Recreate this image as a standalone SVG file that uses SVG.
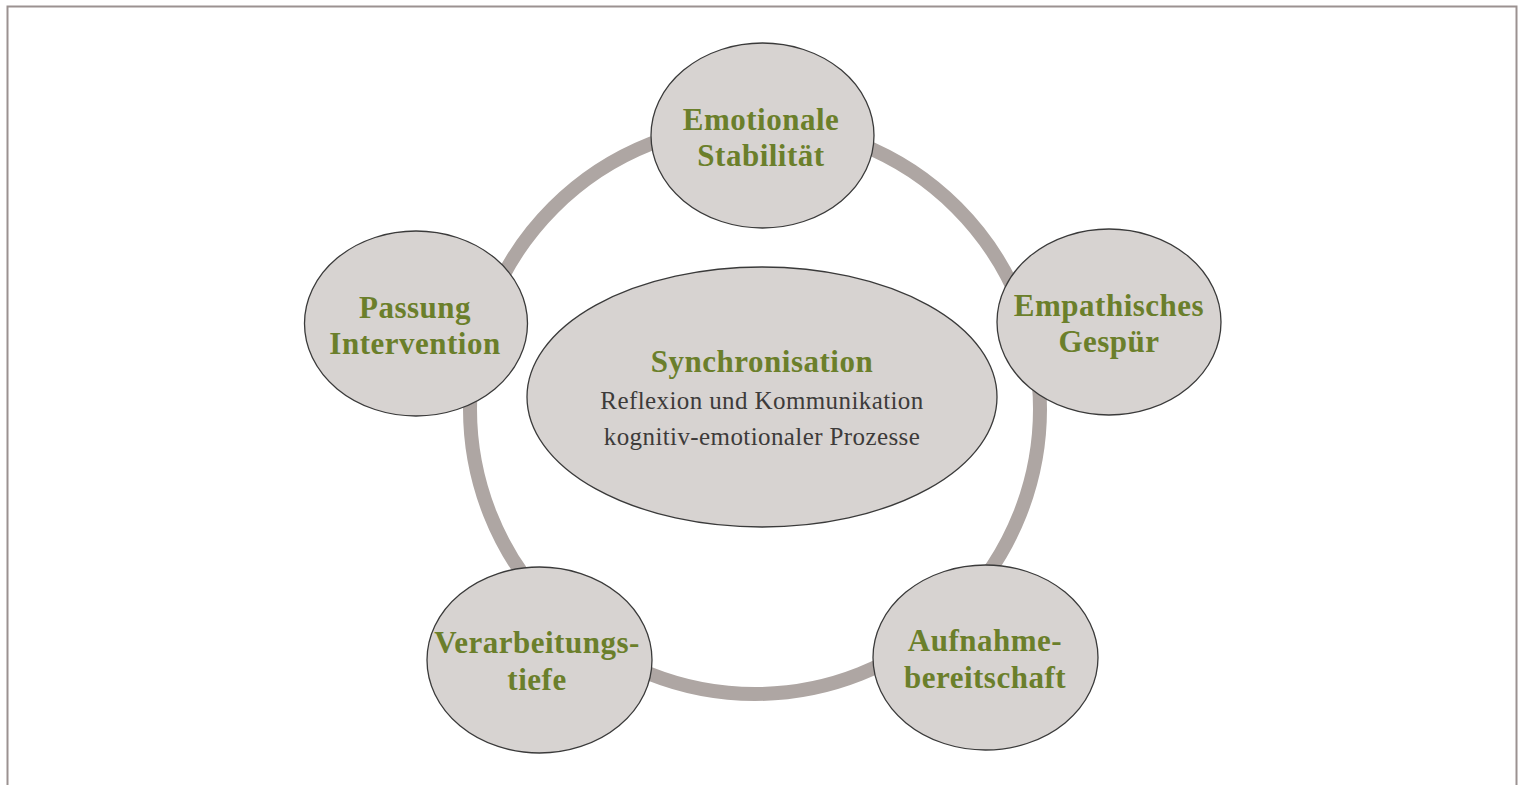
<svg xmlns="http://www.w3.org/2000/svg" width="1522" height="785" viewBox="0 0 1522 785">
<style>
.node ellipse{fill:#d7d3d1;stroke:#3a3a3a;stroke-width:1.3}
.t{font-family:"Liberation Serif","DejaVu Serif",serif;font-weight:bold;font-size:31px;letter-spacing:0.5px;fill:#6b7f2b;text-anchor:middle}
.s{font-family:"Liberation Serif","DejaVu Serif",serif;font-size:25px;letter-spacing:0.4px;fill:#3d3b3a;text-anchor:middle}
</style>
<rect width="1522" height="785" fill="#ffffff"/>
<path d="M7.5 785 V6.5 H1516.5 V785" fill="none" stroke="#9b9291" stroke-width="2"/>
<g id="connectors">
<circle cx="755" cy="409" r="285" fill="none" stroke="#aea6a3" stroke-width="14"/>
</g>
<g id="node-center" class="node">
<ellipse cx="762" cy="397" rx="235" ry="130"/>
<text class="t" x="762" y="372">Synchronisation</text>
<text class="s" x="762" y="409">Reflexion und Kommunikation</text>
<text class="s" x="762" y="445">kognitiv-emotionaler Prozesse</text>
</g>
<g id="node-emotionale" class="node">
<ellipse cx="762.5" cy="135.5" rx="111.5" ry="92.5"/>
<text class="t" x="761" y="130">Emotionale</text>
<text class="t" x="761" y="166">Stabilität</text>
</g>
<g id="node-empathisches" class="node">
<ellipse cx="1109" cy="322" rx="112" ry="93"/>
<text class="t" x="1109" y="316">Empathisches</text>
<text class="t" x="1109" y="352">Gespür</text>
</g>
<g id="node-aufnahme" class="node">
<ellipse cx="985.5" cy="657.5" rx="112.5" ry="92.5"/>
<text class="t" x="985" y="651">Aufnahme-</text>
<text class="t" x="985" y="688">bereitschaft</text>
</g>
<g id="node-verarbeitung" class="node">
<ellipse cx="539.5" cy="660" rx="112.5" ry="93"/>
<text class="t" x="537" y="653">Verarbeitungs-</text>
<text class="t" x="537" y="690">tiefe</text>
</g>
<g id="node-passung" class="node">
<ellipse cx="416" cy="323.5" rx="111.5" ry="92.5"/>
<text class="t" x="415" y="318">Passung</text>
<text class="t" x="415" y="354">Intervention</text>
</g>
</svg>
